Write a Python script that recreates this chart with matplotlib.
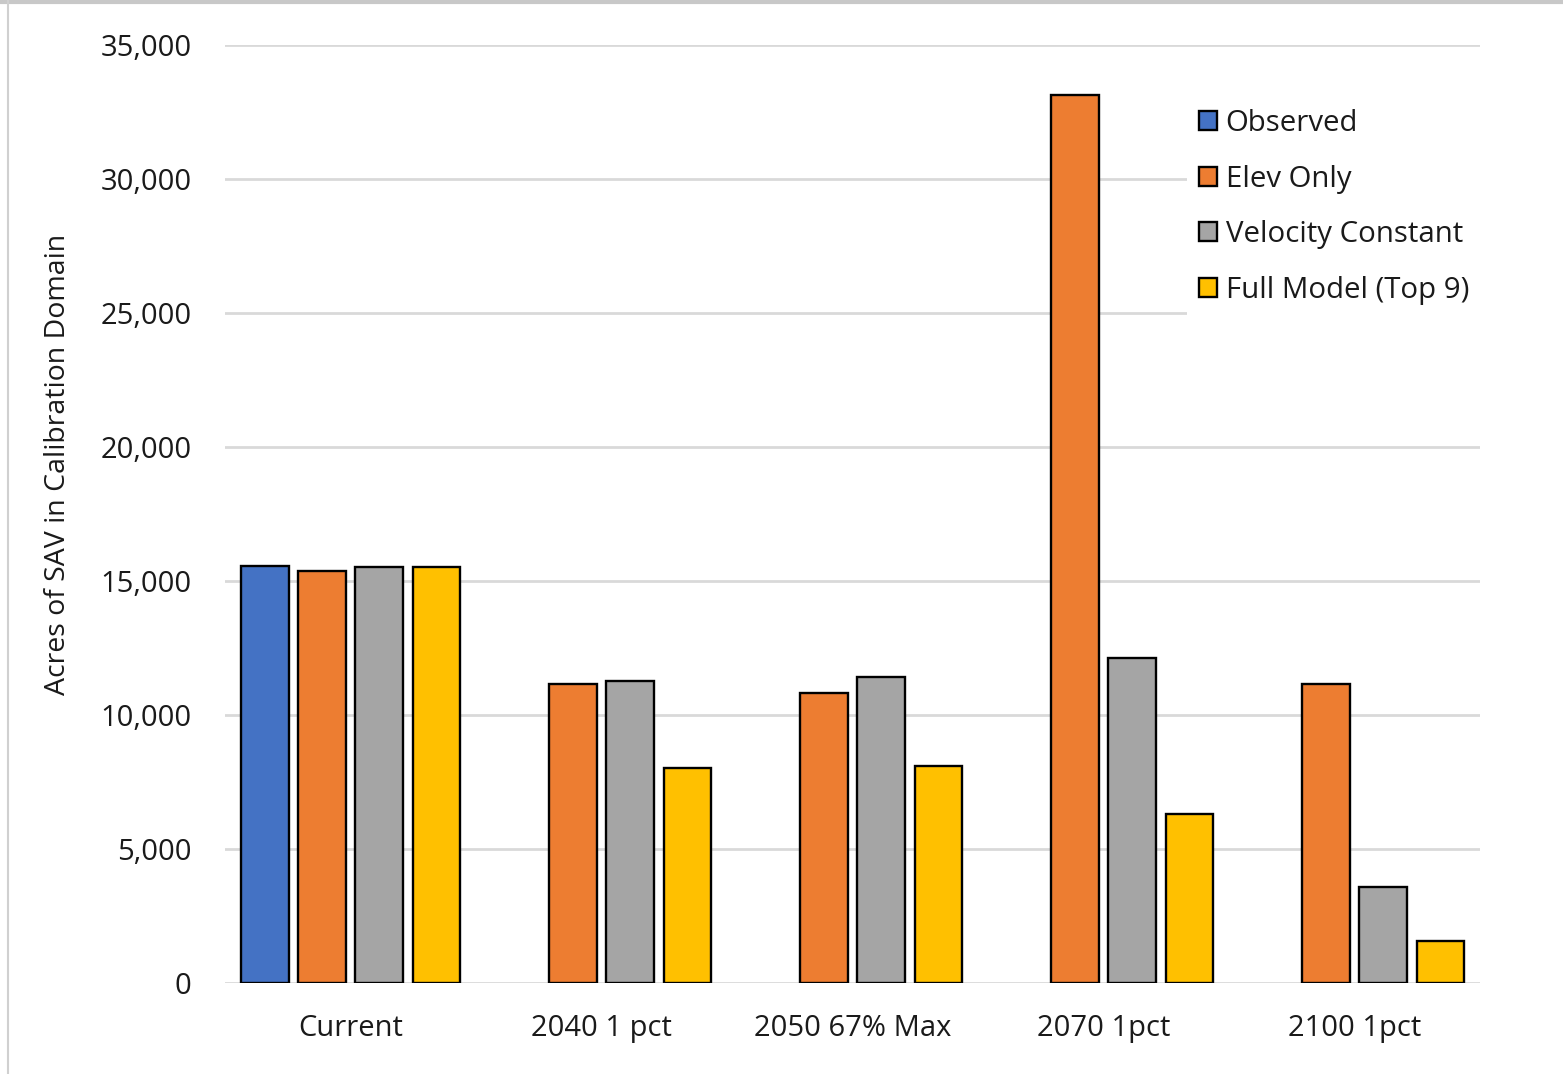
import numpy as np
import matplotlib.pyplot as plt
from matplotlib.lines import Line2D

categories = ["Current", "2040 1 pct", "2050 67% Max", "2070 1pct", "2100 1pct"]
observed = [15560, np.nan, np.nan, np.nan, np.nan]
elev_only = [15370, 11160, 10820, 33130, 11160]
velocity_constant = [15520, 11270, 11420, 12130, 3580]
full_model = [15520, 8020, 8100, 6310, 1570]

series = [
    ("Observed", observed, "#4472C4"),
    ("Elev Only", elev_only, "#ED7D31"),
    ("Velocity Constant", velocity_constant, "#A5A5A5"),
    ("Full Model (Top 9)", full_model, "#FFC000"),
]

plt.rcParams['font.family'] = ['Open Sans', 'DejaVu Sans']

fig = plt.figure(figsize=(15.63, 10.74), dpi=100)
ax = fig.add_axes([0.144, 0.0847, 0.803, 0.8734])

x = np.arange(len(categories))
pitch = 0.228
width = 0.19
for i, (name, vals, col) in enumerate(series):
    ax.bar(x + (i - 1.5) * pitch, vals, width, color=col, edgecolor='black',
           linewidth=1.7, label=name, zorder=3)

ax.set_xlim(-0.5, len(categories) - 0.5)
ax.set_ylim(0, 35000)
ax.set_yticks(np.arange(0, 35001, 5000))
ax.yaxis.set_major_formatter(plt.FuncFormatter(lambda v, p: f"{int(v):,}"))
ax.set_xticks(x)
ax.set_xticklabels(categories)
ax.tick_params(axis='both', length=0, labelsize=21, colors='#1a1a1a')
ax.tick_params(axis='y', pad=24)
ax.tick_params(axis='x', pad=22)
ax.grid(axis='y', color='#D9D9D9', linewidth=2, zorder=0)
for s in ax.spines.values():
    s.set_visible(False)
ax.set_ylabel("Acres of SAV in Calibration Domain", fontsize=20.5, color='#1a1a1a')
ax.yaxis.set_label_coords(-0.122, 0.553)

leg = ax.legend(loc='upper left', bbox_to_anchor=(0.7545, 0.96), frameon=True,
                fontsize=21.2, handlelength=0.62, handleheight=0.62,
                handletextpad=0.3, labelspacing=0.9, borderpad=0.4)
leg.get_frame().set_edgecolor('none')
leg.get_frame().set_facecolor('white')
leg.get_frame().set_alpha(1)
leg.get_frame().set_boxstyle('square', pad=0)
for t in leg.get_texts():
    t.set_color('#1a1a1a')

# screenshot border
fig.add_artist(Line2D([0, 1], [0.998, 0.998], color='#C8C8C8', linewidth=3, transform=fig.transFigure))
fig.add_artist(Line2D([0.0048, 0.0048], [0, 1], color='#D0D0D0', linewidth=1.5, transform=fig.transFigure))

fig.savefig("out.png", dpi=100)
